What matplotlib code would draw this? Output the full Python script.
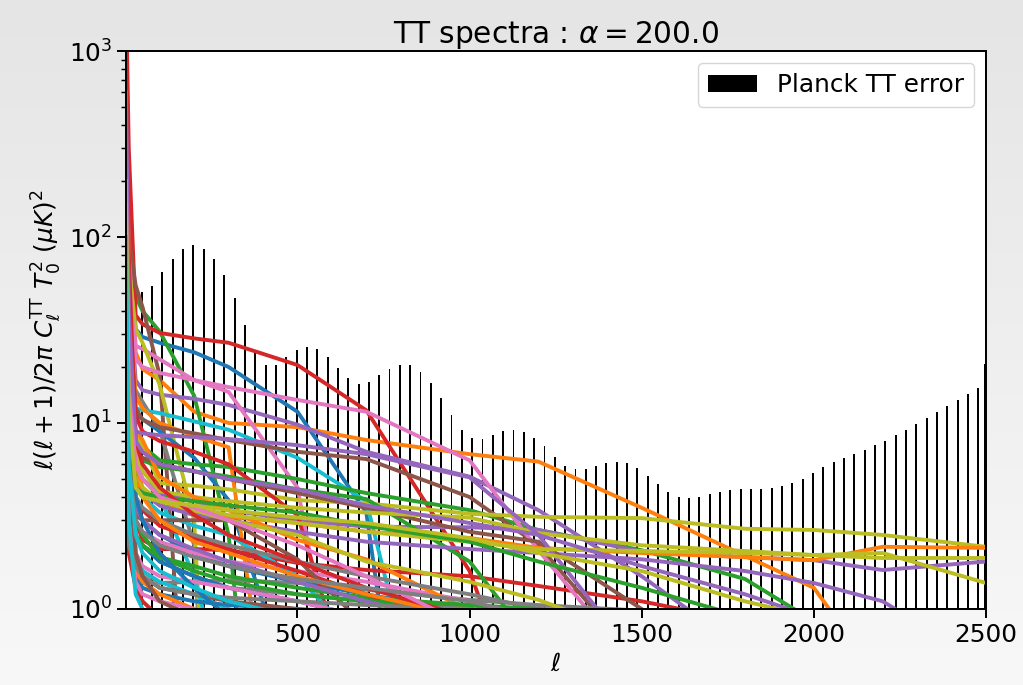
import numpy as np
import matplotlib
matplotlib.use("Agg")
import matplotlib.pyplot as plt
from matplotlib.colors import LinearSegmentedColormap

# sizes scaled to match a 10pt figure saved at ~178 dpi
s = 1.78
plt.rcParams["font.size"] = 10 * s
plt.rcParams["lines.linewidth"] = 2.8
plt.rcParams["axes.linewidth"] = 0.8 * s
plt.rcParams["xtick.major.size"] = 3.5 * s
plt.rcParams["ytick.major.size"] = 3.5 * s
plt.rcParams["xtick.major.width"] = 0.8 * s
plt.rcParams["ytick.major.width"] = 0.8 * s
plt.rcParams["ytick.minor.size"] = 2 * s
plt.rcParams["ytick.minor.width"] = 0.6 * s
plt.rcParams["legend.fontsize"] = 10 * s

# Planck binned TT error bars
planck_ell = np.append(np.arange(47.5, 2478, 30), 2497)
planck_err = [50.8, 54.5, 65, 76, 86, 90.6, 86, 76, 62.5, 47, 33.6, 23.7, 20.5, 20.5,
              22.6, 24.7, 25.6, 25, 22.6, 19.8, 17.5, 16.3, 16.6, 18.1, 19.5, 20.5, 20.5, 18.8,
              16.5, 13.6, 11.0, 9.2, 8.3, 8.2, 8.6, 9.06, 9.2, 8.9, 8.3, 7.5, 6.6, 5.9, 5.66,
              5.66, 5.87, 6.1, 6.17, 6.1, 5.73, 5.19, 4.7, 4.26, 4.0, 3.95, 4.0, 4.15, 4.26,
              4.36, 4.42, 4.42, 4.42, 4.47, 4.58, 4.75, 5.0, 5.38, 5.8, 6.17, 6.48, 6.8, 7.16,
              7.6, 8.0, 8.6, 9.2, 9.9, 10.6, 11.5, 12.3, 13.3, 14.3, 15.4,
              20.8]

# multipoles where the spectra were evaluated
ell_nodes = [2, 10, 30, 50, 100, 200, 300, 500, 700, 1000, 1200, 1500, 1800, 2000, 2200, 2500]
X = 1e-3  # below the plotted range

# one row per spectrum, colours follow the default cycle (C0..C9)
spectra = [
    # round 1
    [900, 150, 32, 29, 27, 24, 20, 11.5, 3.3, 4e-4, X, X, X, X, X, X],
    [1500, 150, 24, 19.5, 17, 11.5, 10, 9.5, 8.1, 6.8, 6.2, 3.5, 1.93, 1.3, 0.4, 0.05],
    [200, 90, 48, 40, 31, 14, 2.5, X, X, X, X, X, X, X, X, X],
    [2000, 300, 38, 34, 30.5, 28.5, 27, 20.5, 11.7, 1.6, 0.15, X, X, X, X, X],
    [400, 60, 17, 15, 14.2, 13.5, 12.5, 9.8, 7.0, 5.15, 3.4, 1.5, 0.6, 0.3, 0.1, 0.01],
    [300, 100, 55, 42, 18, 0.05, X, X, X, X, X, X, X, X, X, X],
    [600, 80, 26, 25, 22, 17, 14.7, 4.5, 0.05, X, X, X, X, X, X, X],
    [150, 17, 15, 13, 9.2, 2.2, X, X, X, X, X, X, X, X, X, X],
    [250, 70, 32, 27, 16, 3, X, X, X, X, X, X, X, X, X, X],
    [300, 40, 12, 11.7, 11.3, 10.2, 9.2, 6.5, 3.8, 0.022, X, X, X, X, X, X],
    # round 2
    [500, 40, 11, 10.5, 9.0, 6.5, 3.85, 0.3, X, X, X, X, X, X, X, X],
    [800, 60, 14, 12, 10, 8.5, 7.4, 0.02, X, X, X, X, X, X, X, X],
    [300, 30, 9, 7.5, 6.3, 6.0, 5.8, 5.0, 4.2, 3.4, 2.66, 2.07, 1.45, 0.86, 0.6, 0.3],
    [700, 40, 3, 2.35, 2.1, 2.1, 2.07, 1.77, 1.62, 1.5, 1.33, 1.1, 0.85, 0.7, 0.5, 0.3],
    [200, 25, 6, 5, 4.2, 3.8, 3.4, 3.0, 2.77, 2.75, 2.66, 2.03, 1.9, 1.83, 1.62, 1.8],
    [500, 40, 12, 10.4, 9.5, 8.8, 8.1, 7.0, 6.4, 4.0, 2.2, 0.5, 0.1, 0.02, 0.01, 0.01],
    [300, 60, 22, 20, 18.6, 17, 15.6, 13.3, 11.5, 6.3, 2.07, 0.44, 0.05, 0.01, 0.01, 0.01],
    [150, 12, 2.0, 1.6, 1.38, 1.4, 1.43, 1.38, 1.27, 1.12, 1.05, 0.98, 0.9, 0.8, 0.7, 0.6],
    [400, 40, 9, 7.5, 4.75, 4.6, 4.4, 3.85, 3.7, 3.25, 3.13, 3.08, 2.7, 2.66, 2.5, 2.16],
    [400, 30, 6, 5, 4, 1.5, 0.3, X, X, X, X, X, X, X, X, X],
    # round 3
    [150, 10, 3.5, 3.0, 2.5, 2.0, 1.7, 1.4, 1.2, 0.95, 0.7, 0.3, 0.1, 0.05, 0.01, 0.01],
    [200, 30, 6, 4.5, 3.6, 3.3, 3.13, 2.9, 2.6, 2.41, 2.13, 2.0, 1.9, 1.83, 2.16, 2.13],
    [250, 20, 7, 6.3, 5.8, 5.5, 5.15, 4.4, 3.9, 1.8, 0.6, 0.05, X, X, X, X],
    [800, 50, 11, 9, 8, 7, 6, 3.2, 0.2, X, X, X, X, X, X, X],
    [300, 20, 5, 4.2, 3.6, 3.2, 3.0, 2.6, 2.3, 2.1, 2.0, 1.85, 1.6, 1.38, 1.1, 0.5],
    [300, 30, 7, 6.5, 6, 5.5, 5, 4.2, 3.5, 2.6, 2.3, 1.0, 0.3, 0.1, 0.01, 0.01],
    [200, 15, 3, 2.6, 2.3, 2.0, 1.8, 1.6, 1.4, 1.1, 0.8, 0.3, 0.1, 0.01, 0.01, 0.01],
    [80, 5, 2.5, 2.2, 1.8, 1.5, 1.3, 1.2, 1.1, 1.0, 0.9, 0.5, 0.1, X, X, X],
    [300, 25, 7, 5.5, 4.3, 4.0, 3.8, 3.5, 3.3, 3.1, 2.56, 2.2, 2.05, 1.95, 1.88, 1.88],
    [250, 15, 4.5, 4, 3.3, 2.8, 2.5, 1.5, 0.6, 0.1, X, X, X, X, X, X],
    # round 4
    [120, 8, 2.5, 2.2, 1.8, 1.5, 1.3, 1.1, 0.9, 0.5, X, X, X, X, X, X],
    [4, 8.8, 9.2, 8.1, 5.15, 4.0, 3.4, 2.35, 1.85, 0.98, 0.5, 0.1, X, X, X, X],
    [100, 6, 2.5, 2.2, 1.9, 1.7, 1.5, 1.3, 1.15, 1.05, 0.95, 0.8, 0.5, 0.2, 0.1, 0.05],
    [400, 25, 4, 3.4, 2.8, 2.4, 2.1, 1.6, 1.2, 0.8, 0.3, X, X, X, X, X],
    [250, 15, 9, 8.8, 8.6, 8.4, 8.2, 7.6, 6.8, 5.1, 2.5, 0.5, 0.1, X, X, X],
    [200, 10, 3.2, 3.0, 3.0, 3.0, 3.0, 1.85, 0.8, 0.1, X, X, X, X, X, X],
    [150, 8, 2, 1.7, 1.5, 1.4, 1.3, 1.1, 0.9, 0.5, X, X, X, X, X, X],
    [100, 10, 4, 3.5, 3, 2.5, 2.2, 1.8, 1.5, 1.2, 1.0, 0.9, 0.5, X, X, X],
    [200, 20, 6, 5, 4, 3.5, 3.2, 2.9, 2.6, 2.3, 2.1, 2.05, 2.0, 1.95, 2.0, 1.38],
    [60, 4, 1.8, 1.6, 1.4, 1.2, 1.0, 0.8, 0.3, X, X, X, X, X, X, X],
    # round 5
    [60, 3, 1.5, 1.3, 1.2, 1.1, 1.05, 1.0, 0.9, 0.5, X, X, X, X, X, X],
    [40, 2.5, 1.6, 1.4, 1.2, 1.0, 0.9, 0.5, X, X, X, X, X, X, X, X],
    [2, 3.5, 3.0, 2.5, 1.9, 1.6, 1.4, 1.2, 1.1, 1.05, 1.0, 0.95, 0.9, 0.5, X, X],
    [30, 2, 1.3, 1.1, 0.9, 0.5, X, X, X, X, X, X, X, X, X, X],
    [50, 6, 3.5, 3.0, 2.5, 2.1, 1.8, 1.4, 1.1, 0.8, X, X, X, X, X, X],
    [100, 4, 1.8, 1.5, 1.3, 1.2, 1.1, 1.0, 0.95, 0.5, X, X, X, X, X, X],
    [40, 3, 1.4, 1.2, 1.1, 1.0, 0.8, 0.3, X, X, X, X, X, X, X, X],
    [20, 2.2, 1.7, 1.5, 1.3, 1.2, 1.15, 1.1, 1.05, 1.0, 0.9, 0.5, X, X, X, X],
    [70, 10, 5, 4.5, 3.8, 3.4, 3.0, 2.5, 1.8, 1.4, 1.12, 0.7, 0.1, X, X, X],
    [10, 3, 1.2, 1.0, 0.8, 0.3, X, X, X, X, X, X, X, X, X, X],
    # round 6
    [300, 20, 4, 3, 2, 1.3, 0.9, 0.3, X, X, X, X, X, X, X, X],
    [500, 30, 5, 4, 3, 2.3, 2.0, 1.5, 1.2, 0.9, 0.3, X, X, X, X, X],
    [150, 12, 4.5, 4.2, 4.0, 3.8, 3.6, 3.3, 2.8, 2.3, 1.8, 1.3, 0.9, 0.5, X, X],
    [1200, 80, 8, 6, 4.5, 3.2, 2.5, 1.8, 1.3, 0.9, 0.3, X, X, X, X, X],
    [600, 40, 8, 7, 6, 5.5, 5, 4.4, 3.6, 2.9, 2.5, 1.7, 1.2, 0.9, 0.3, X],
    [150, 8, 2, 1.5, 1.1, 0.9, 0.3, X, X, X, X, X, X, X, X, X],
    [200, 15, 6, 5, 4, 3.5, 3, 2.2, 1.5, 0.8, 0.2, X, X, X, X, X],
    [60, 6, 3, 2.6, 2.2, 1.9, 1.7, 1.45, 1.3, 1.1, 0.9, 0.3, X, X, X, X],
    [150, 12, 4.5, 4.0, 3.8, 3.6, 3.4, 3.1, 2.9, 2.4, 2.0, 1.6, 1.1, 0.9, 0.3, X],
    [100, 6, 2.5, 2, 1.6, 1.3, 1.1, 0.9, 0.3, X, X, X, X, X, X, X],
]

fig = plt.figure(figsize=(10.23, 6.85), dpi=100)

# light grey gradient behind everything
bg = fig.add_axes([0, 0, 1, 1], zorder=-10)
grad = np.linspace(0, 1, 256).reshape(-1, 1)
bg.imshow(grad, aspect="auto", cmap=LinearSegmentedColormap.from_list("bg", ["#e5e5e5", "#f8f8f8"]))
bg.axis("off")

ax = fig.add_axes([126 / 1023, 1 - 609 / 685, (986 - 126) / 1023, (609 - 51) / 685])
ax.set_facecolor("white")

ax.bar(planck_ell, planck_err, width=5.5, color="k", label="Planck TT error", zorder=1)
for vals in spectra:
    ax.plot(ell_nodes, vals, zorder=2)

ax.set_yscale("log")
ax.set_ylim(1, 1000)
ax.set_xlim(2, 2500)
ax.set_xticks([500, 1000, 1500, 2000, 2500])
ax.set_xlabel(r"$\ell$")
ax.set_ylabel(r"$\ell(\ell+1)/2\pi\ C_\ell^{\rm TT}\ T_0^2\ (\mu K)^2$")
ax.set_title(r"TT spectra : $\alpha = 200.0$")
ax.legend(loc="upper right")

fig.savefig("out.png", dpi=100)
